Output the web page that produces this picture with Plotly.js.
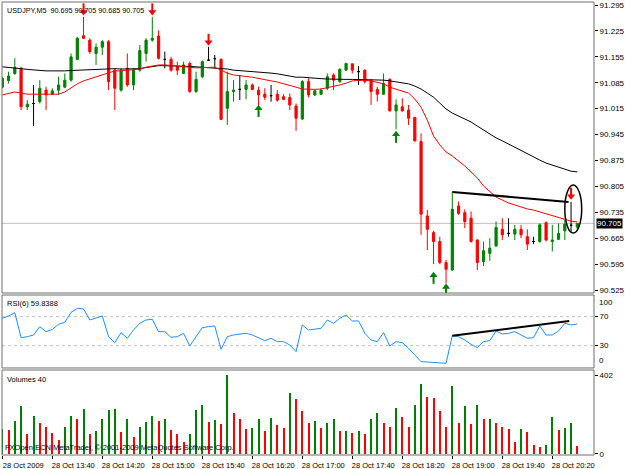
<!DOCTYPE html>
<html><head><meta charset="utf-8">
<script src="https://cdn.plot.ly/plotly-3.0.1.min.js"></script>
<style>html,body{margin:0;padding:0;background:#fff;}#chart{width:625px;height:469px;}</style>
</head><body><div id="chart"></div>
<script>
// ---- data (USDJPY M5, 28 Oct 2009, 93 bars) ----
const openP = [91.073,91.091,91.110,91.124,91.020,91.029,91.034,91.065,91.054,91.065,
 91.073,91.092,91.148,91.212,91.200,91.164,91.181,91.196,91.119,91.065,
 91.124,91.079,91.119,91.164,91.200,91.211,91.148,91.148,91.128,91.110,
 91.137,91.061,91.101,91.146,91.150,91.148,91.016,91.061,91.067,91.067,
 91.079,91.065,91.054,91.050,91.054,91.047,91.045,91.022,90.987,91.088,
 91.052,91.054,91.070,91.106,91.088,91.119,91.136,91.115,91.119,91.092,
 91.067,91.054,91.094,91.009,91.020,91.011,90.991,90.926,90.725,90.680,
 90.656,90.599,90.579,90.752,90.734,90.719,90.660,90.602,90.624,90.644,
 90.689,90.678,90.676,90.689,90.669,90.656,90.656,90.707,90.656,90.662,
 90.685,90.700,90.695];
const highP = [91.101,91.115,91.151,91.128,91.038,91.079,91.092,91.074,91.070,91.101,
 91.110,91.164,91.209,91.263,91.205,91.191,91.200,91.200,91.124,91.124,
 91.164,91.124,91.187,91.205,91.263,91.226,91.169,91.155,91.142,91.142,
 91.142,91.115,91.145,91.182,91.160,91.151,91.115,91.092,91.106,91.092,
 91.083,91.074,91.070,91.079,91.065,91.054,91.056,91.029,91.092,91.097,
 91.067,91.070,91.110,91.110,91.124,91.139,91.137,91.130,91.121,91.094,
 91.074,91.110,91.097,91.040,91.043,91.025,90.993,90.948,90.741,90.685,
 90.669,90.606,90.791,90.764,90.743,90.737,90.662,90.656,90.665,90.710,
 90.719,90.719,90.701,90.701,90.689,90.669,90.705,90.710,90.701,90.705,
 90.714,90.763,90.705];
const lowP = [91.070,91.083,91.106,91.011,91.011,90.968,91.029,91.011,91.052,91.052,
 91.070,91.088,91.146,91.204,91.163,91.133,91.160,91.065,91.011,91.061,
 91.074,91.065,91.115,91.142,91.196,91.148,91.124,91.115,91.106,91.109,
 91.058,91.058,91.097,91.145,91.124,90.984,90.971,91.034,91.038,91.040,
 91.065,91.022,91.038,91.034,91.034,91.038,91.011,90.955,90.984,91.045,
 91.049,91.052,91.065,91.065,91.085,91.118,91.110,91.079,91.083,91.025,
 91.034,91.052,91.007,90.959,91.007,90.971,90.926,90.674,90.633,90.595,
 90.595,90.543,90.577,90.728,90.692,90.653,90.579,90.590,90.604,90.642,
 90.660,90.669,90.660,90.665,90.633,90.649,90.653,90.656,90.629,90.660,
 90.660,90.680,90.685];
const closeP = [91.097,91.103,91.127,91.020,91.027,91.029,91.070,91.052,91.063,91.079,
 91.092,91.155,91.205,91.205,91.169,91.181,91.196,91.088,91.070,91.119,
 91.079,91.119,91.172,91.200,91.205,91.151,91.148,91.119,91.119,91.133,
 91.061,91.094,91.142,91.146,91.150,90.986,91.061,91.065,91.067,91.079,
 91.067,91.052,91.046,91.050,91.038,91.040,91.025,90.989,91.088,91.052,
 91.063,91.065,91.101,91.092,91.121,91.137,91.119,91.115,91.088,91.061,
 91.054,91.083,91.009,91.025,91.009,90.989,90.928,90.730,90.689,90.656,
 90.599,90.581,90.743,90.732,90.710,90.656,90.599,90.631,90.638,90.694,
 90.674,90.678,90.689,90.674,90.649,90.656,90.701,90.660,90.660,90.678,
 90.703,90.700,90.705];
const maFast = [91.052,91.056,91.060,91.057,91.054,91.054,91.054,91.052,91.052,91.054,
 91.060,91.071,91.082,91.090,91.095,91.100,91.106,91.111,91.117,91.117,
 91.118,91.119,91.122,91.127,91.130,91.133,91.133,91.132,91.130,91.130,
 91.127,91.125,91.126,91.127,91.127,91.119,91.111,91.106,91.103,91.102,
 91.100,91.096,91.092,91.090,91.087,91.083,91.079,91.073,91.068,91.067,
 91.067,91.068,91.071,91.075,91.079,91.084,91.090,91.091,91.092,91.090,
 91.087,91.082,91.073,91.067,91.063,91.057,91.041,91.019,90.984,90.941,
 90.917,90.898,90.887,90.874,90.860,90.844,90.828,90.806,90.790,90.776,
 90.768,90.760,90.755,90.749,90.744,90.741,90.736,90.730,90.725,90.721,
 90.716,90.711,90.709];
const maSlow = [91.128,91.127,91.126,91.123,91.121,91.119,91.118,91.117,91.117,91.116,
 91.117,91.118,91.119,91.119,91.121,91.122,91.123,91.123,91.123,91.122,
 91.122,91.121,91.123,91.126,91.129,91.131,91.131,91.131,91.130,91.130,
 91.129,91.128,91.127,91.127,91.125,91.123,91.122,91.119,91.118,91.116,
 91.115,91.113,91.112,91.111,91.109,91.106,91.103,91.100,91.100,91.098,
 91.097,91.096,91.095,91.094,91.094,91.094,91.094,91.094,91.094,91.093,
 91.092,91.092,91.090,91.088,91.086,91.082,91.076,91.068,91.057,91.046,
 91.030,91.014,91.003,90.995,90.987,90.979,90.968,90.957,90.946,90.936,
 90.928,90.919,90.911,90.901,90.892,90.884,90.876,90.868,90.863,90.857,
 90.852,90.846,90.844];
const rsi6 = [67.7,70.9,75.5,41.0,42.4,44.7,56.2,49.3,52.5,59.4,
 62.2,75.9,81.5,80.6,65.4,67.7,70.9,42.4,34.1,47.9,
 40.1,51.6,60.8,65.4,66.3,49.3,49.3,41.5,42.4,47.0,
 29.5,42.4,54.8,56.2,57.1,24.9,42.4,44.7,45.6,47.0,
 44.7,41.0,36.9,40.1,35.5,35.5,30.9,21.7,58.5,51.6,
 52.5,53.9,65.4,60.8,67.7,72.3,64.0,64.0,47.0,37.8,
 35.5,47.9,29.5,35.5,34.1,26.3,17.1,7.9,7.4,7.0,
 6.5,5.6,43.8,42.4,37.8,31.8,27.2,35.5,36.9,50.2,
 46.1,47.0,49.3,44.7,40.1,41.0,57.1,44.7,44.7,50.2,
 60.8,58.5,59.84];
const volumes = [127,122,168,246,100,193,159,139,109,71,
 136,195,176,231,100,117,176,224,229,110,
 176,88,139,165,195,168,178,122,102,63,
 100,224,249,165,173,153,402,207,178,125,
 130,178,117,182,148,131,309,280,219,159,
 168,134,159,178,117,119,109,119,102,178,
 207,159,136,236,190,136,249,355,290,287,
 219,136,346,159,246,151,249,176,178,156,
 136,127,63,127,110,46,37,46,187,122,
 134,159,40];
const timeTickBars = [0,8,16,24,32,40,48,56,64,72,80,88];
const timeTickLabels = ["28 Oct 2009","28 Oct 13:40","28 Oct 14:20","28 Oct 15:00","28 Oct 15:40","28 Oct 16:20",
 "28 Oct 17:00","28 Oct 17:40","28 Oct 18:20","28 Oct 19:00","28 Oct 19:40","28 Oct 20:20"];
const priceTicks = [91.295,91.225,91.155,91.085,91.015,90.945,90.875,90.805,90.735,90.665,90.595,90.525];
const downArrowBars = [13,24,33,91];
const downArrowPrices = [91.282,91.282,91.200,90.784];
const upArrowBars = [41,63,69,71];
const upArrowPrices = [91.010,90.940,90.559,90.527];
const priceTrendX = [72, 90.6];
const priceTrendY = [90.790, 90.763];
const rsiTrendX = [72, 90.7];
const rsiTrendY = [43.7, 64.0];
const ellipseX = [90.0, 92.7];
const ellipseY = [90.679, 90.809];
const bidPrice = 90.705;
const titleText = "USDJPY,M5  90.695 90.705 90.685 90.705";

// ---- build ----
const idx = openP.map((_, i) => i);
const GREEN = '#008000', RED = '#ff0000';
const isDoji = i => openP[i] === closeP[i];
const pick = (arr, cond) => idx.filter(cond).map(i => arr[i]);
const nd = i => !isDoji(i), dj = i => isDoji(i);

const candles = {
  type:'candlestick', xaxis:'x', yaxis:'y',
  x: idx.filter(nd), open: pick(openP, nd), high: pick(highP, nd), low: pick(lowP, nd), close: pick(closeP, nd),
  increasing:{line:{color:GREEN, width:1}, fillcolor:GREEN},
  decreasing:{line:{color:RED, width:1}, fillcolor:RED},
  whiskerwidth:0, hoverinfo:'skip'
};
const dojis = {
  type:'candlestick', xaxis:'x', yaxis:'y',
  x: idx.filter(dj), open: pick(openP, dj), high: pick(highP, dj), low: pick(lowP, dj), close: pick(closeP, dj),
  increasing:{line:{color:'#000', width:1}, fillcolor:'#000'},
  decreasing:{line:{color:'#000', width:1}, fillcolor:'#000'},
  whiskerwidth:0, hoverinfo:'skip'
};
const slow = {type:'scatter', mode:'lines', x:idx, y:maSlow, yaxis:'y', line:{color:'#000', width:1}, hoverinfo:'skip'};
const fast = {type:'scatter', mode:'lines', x:idx, y:maFast, yaxis:'y', line:{color:RED, width:1}, hoverinfo:'skip'};

// arrows drawn as marker glyphs: shaft + head (1 px ≈ 0.0027 in price)
const PX = 0.0027;
const shaft = (xs, ys, dir, color) => ({type:'scatter', mode:'markers', x:xs, y:ys.map(v => v + dir*1.5*PX), yaxis:'y',
  marker:{symbol:'line-ns-open', size:7, color:color, line:{color:color, width:2}}, hoverinfo:'skip'});
const head = (xs, ys, dir, color) => ({type:'scatter', mode:'markers', x:xs, y:ys.map(v => v - dir*2.2*PX), yaxis:'y',
  marker:{symbol: dir > 0 ? 'triangle-down' : 'triangle-up', size:7, color:color, line:{width:0}}, hoverinfo:'skip'});
const downShaft = shaft(downArrowBars, downArrowPrices, 1, RED);
const downHead = head(downArrowBars, downArrowPrices, 1, RED);
const upShaft = shaft(upArrowBars, upArrowPrices, -1, GREEN);
const upHead = head(upArrowBars, upArrowPrices, -1, GREEN);

const ptrend = {type:'scatter', mode:'lines', x:priceTrendX, y:priceTrendY, yaxis:'y', line:{color:'#000', width:2}, hoverinfo:'skip'};
const rsiLine = {type:'scatter', mode:'lines', x:idx, y:rsi6, yaxis:'y2', line:{color:'#1E90FF', width:1}, hoverinfo:'skip'};
const rtrend = {type:'scatter', mode:'lines', x:rsiTrendX, y:rsiTrendY, yaxis:'y2', line:{color:'#000', width:2}, hoverinfo:'skip'};
const volColors = volumes.map((v, i) => (i === 0 || v > volumes[i-1]) ? GREEN : RED);
const vol = {type:'bar', x:idx, y:volumes, yaxis:'y3', width:0.32, marker:{color:volColors, line:{width:0}}, hoverinfo:'skip'};

const FONT = 'Liberation Sans, Arial, sans-serif';
const frame = (yref) => ({type:'rect', xref:'x domain', yref:yref, x0:0, x1:1, y0:0, y1:1, line:{color:'#6e6e6e', width:1}, layer:'above'});
const axY = {side:'right', showgrid:false, zeroline:false, showline:false, ticks:'outside', ticklen:3, tickcolor:'#000', tickfont:{size:8}, fixedrange:true};

const layout = {
  width:625, height:469,
  margin:{l:2, r:31, t:2, b:14},
  paper_bgcolor:'#fff', plot_bgcolor:'#fff',
  showlegend:false, boxgap:0.5, boxmode:'overlay', bargap:0,
  font:{family:FONT, size:8, color:'#000'},
  xaxis:{range:[-0.05, 94.67], anchor:'y3', showgrid:false, zeroline:false, showline:false,
    ticks:'outside', ticklen:3, tickcolor:'#000', tickmode:'array', tickvals:timeTickBars, ticktext:timeTickLabels,
    ticklabelshift:21, tickfont:{size:7.5}, rangeslider:{visible:false}, fixedrange:true},
  yaxis:Object.assign({}, axY, {domain:[0.3576, 1], range:[90.5169, 91.3031], tickmode:'array', tickvals:priceTicks, tickformat:'.3f'}),
  yaxis2:Object.assign({}, axY, {domain:[0.1921, 0.3532], range:[-0.83, 99.86], tickmode:'array', tickvals:[70, 30]}),
  yaxis3:Object.assign({}, axY, {domain:[0, 0.1876], range:[-5.1, 427.5], tickmode:'array', tickvals:[402, 0]}),
  shapes:[
    {type:'line', xref:'x domain', yref:'y', x0:0, x1:1, y0:bidPrice, y1:bidPrice, line:{color:'#c0c0c0', width:1}, layer:'below'},
    {type:'line', xref:'x domain', yref:'y2', x0:0, x1:1, y0:70, y1:70, line:{color:'#c0c0c0', width:1, dash:'dot'}, layer:'below'},
    {type:'line', xref:'x domain', yref:'y2', x0:0, x1:1, y0:30, y1:30, line:{color:'#c0c0c0', width:1, dash:'dot'}, layer:'below'},
    {type:'circle', xref:'x', yref:'y', x0:ellipseX[0], x1:ellipseX[1], y0:ellipseY[0], y1:ellipseY[1], line:{color:'#000', width:1.5}, layer:'above'},
    frame('y domain'), frame('y2 domain'), frame('y3 domain')
  ],
  annotations:[
    {xref:'paper', yref:'paper', x:0, y:1, xanchor:'left', yanchor:'top', xshift:3, yshift:-2, text:titleText, showarrow:false, font:{size:7.2}},
    {xref:'paper', yref:'y2 domain', x:0, y:1, xanchor:'left', yanchor:'top', xshift:3, yshift:-2, text:'RSI(6) 59.8388', showarrow:false, font:{size:7.5}},
    {xref:'paper', yref:'y3 domain', x:0, y:1, xanchor:'left', yanchor:'top', xshift:3, yshift:-3, text:'Volumes 40', showarrow:false, font:{size:7.5}},
    {xref:'paper', yref:'y3 domain', x:0, y:0, xanchor:'left', yanchor:'bottom', xshift:1, yshift:1, text:'FXOpen ECN MetaTrader, © 2001-2009 MetaQuotes Software Corp.', showarrow:false, font:{size:7.5}},
    {xref:'paper', yref:'y2 domain', x:1, y:1, xanchor:'left', yanchor:'top', xshift:3, yshift:-1, text:'100', showarrow:false, font:{size:8}},
    {xref:'paper', yref:'y2 domain', x:1, y:0, xanchor:'left', yanchor:'bottom', xshift:3, yshift:1, text:'0', showarrow:false, font:{size:8}},
    {xref:'paper', yref:'y', x:1, y:bidPrice, xanchor:'left', yanchor:'middle', xshift:2, text:'90.705', showarrow:false,
      bgcolor:'#000', borderpad:0, font:{size:8, color:'#fff'}}
  ]
};

Plotly.newPlot('chart', [candles, dojis, slow, fast, downShaft, downHead, upShaft, upHead, ptrend, rsiLine, rtrend, vol], layout, {displayModeBar:false, staticPlot:true});
</script>
</body></html>
